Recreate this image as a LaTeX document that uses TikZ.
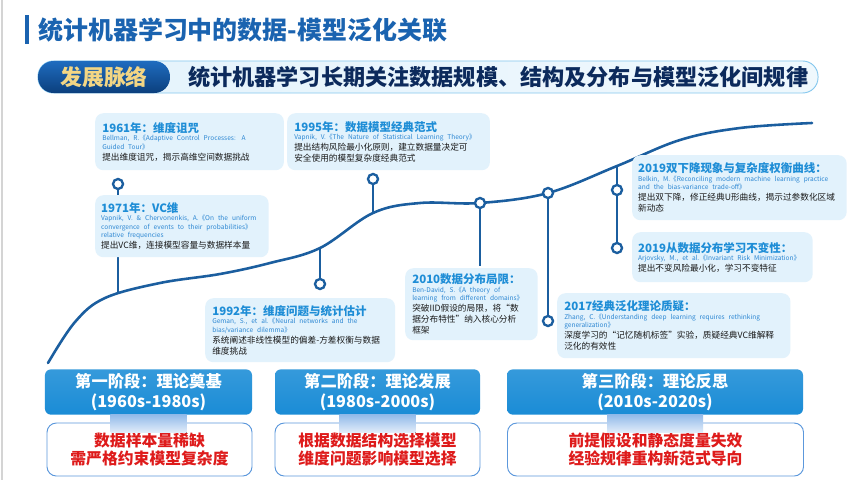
\documentclass[tikz,border=0pt]{standalone}
\usepackage{fontspec}
\setmainfont{Noto Sans CJK SC}
\usetikzlibrary{positioning, calc}

\definecolor{HeadBlue}{HTML}{1A63B0}
\definecolor{NavyText}{HTML}{0C2A5C}
\definecolor{PillDark}{HTML}{0B3F7D}
\definecolor{PillLight}{HTML}{1F6CBF}
\definecolor{PillGold}{HTML}{F3D684}
\definecolor{BandFill}{HTML}{E4F3FC}
\definecolor{BandLine}{HTML}{86C8EE}
\definecolor{CurveBlue}{HTML}{1B5E9F}
\definecolor{CardFill}{HTML}{E2F2FC}
\definecolor{CardTitle}{HTML}{1E8DD6}
\definecolor{CardCite}{HTML}{2B86D2}
\definecolor{CardText}{HTML}{1A1A1A}
\definecolor{StageBlue}{HTML}{1A8CD6}
\definecolor{StageArrow}{HTML}{93BBEA}
\definecolor{NoteLine}{HTML}{5C98DC}
\definecolor{NoteRed}{HTML}{DE1B1B}
\definecolor{SlideGray}{HTML}{D4D4D4}

\newcommand{\CardHead}[1]{{\fontsize{9.8}{11.5}\selectfont\bfseries\color{CardTitle}#1\par}}
\newcommand{\CardCiteLine}[1]{{\fontsize{5.6}{7.2}\selectfont\color{CardCite}\hyphenpenalty=10000\exhyphenpenalty=10000 #1\par}}
\newcommand{\CardBody}[1]{{\fontsize{7.4}{9.4}\selectfont\color{CardText}#1\par}}

\tikzset{
    plain/.style={
        inner sep=0pt,
        anchor=west
    },
    band/.style={
        draw=BandLine,
        left color=BandFill,
        right color=BandFill!60!white,
        line width=0.8pt,
        rounded corners=0.46cm
    },
    pill/.style={
        top color=PillLight,
        bottom color=PillDark,
        rounded corners=0.47cm,
        text=PillGold,
        font=\fontsize{18.6}{20}\selectfont\bfseries
    },
    curve/.style={
        CurveBlue,
        line width=2.2pt,
        line cap=round
    },
    stem/.style={
        CurveBlue,
        line width=2pt
    },
    dot/.style={
        circle,
        draw=CurveBlue,
        fill=white,
        line width=2pt,
        minimum size=0.3cm,
        inner sep=0pt
    },
    card/.style={
        fill=CardFill,
        rounded corners=7pt,
        anchor=north west,
        align=left,
        text width=#1,
        inner xsep=6pt,
        inner ysep=3pt
    },
    stagehead/.style={
        top color=StageBlue!88!white,
        bottom color=StageBlue,
        rounded corners=5pt,
        minimum height=1.32cm,
        text=white,
        font=\fontsize{13.9}{17}\selectfont\bfseries,
        align=center
    },
    stagenote/.style={
        draw=NoteLine,
        fill=white,
        line width=0.8pt,
        rounded corners=8pt,
        minimum height=1.59cm,
        text=NoteRed,
        font=\fontsize{13.5}{16}\selectfont\bfseries,
        align=center
    },
    stagearrow/.style={
        top color=StageArrow,
        bottom color=StageArrow!25
    }
}

\begin{document}
\begin{tikzpicture}[x=0.03cm, y=-0.03cm]
        \useasboundingbox (0,0) rectangle (851,480);
        \fill[white] (0,0) rectangle (851,480);
        \draw[SlideGray, line width=1pt] (2,0) -- (2,480);

        % Header
        \fill[HeadBlue] (25,15) rectangle (29,44);
        \node[plain, text=HeadBlue, font=\fontsize{21.3}{24}\selectfont\bfseries] (title) at (38,30) {统计机器学习中的数据-模型泛化关联};

        % Banner
        \node[band, minimum width=23.4cm, minimum height=0.96cm] (band) at (428,77) {};
        \node[pill, minimum width=3.96cm, minimum height=0.96cm] (pill) at (104,77) {发展脉络};
        \node[plain, text=NavyText, font=\fontsize{18.9}{20}\selectfont\bfseries] (bandtext) at (188,77) {统计机器学习长期关注数据规模、结构及分布与模型泛化间规律};

        % Timeline curve
        \draw[curve] plot[smooth, tension=0.6] coordinates {(48,363) (75,322) (105,298) (160,283) (220,274) (270,263) (320,248) (373,213) (420,203) (480,203) (548,193) (617,166) (680,140) (740,128) (812,123)};

        % Markers
        \coordinate (k1961) at (118,293);
        \node[dot] (d1961) at (118,184) {};
        \draw[stem] (k1961) -- (d1961);
        \coordinate (k1992) at (320,248);
        \node[dot] (d1992) at (320,284) {};
        \draw[stem] (k1992) -- (d1992);
        \coordinate (k1995) at (373,213);
        \node[dot] (d1995) at (373,179) {};
        \draw[stem] (k1995) -- (d1995);
        \node[dot] (d2010) at (480,203) {};
        \coordinate (k2010) at (480,266);
        \draw[stem] (d2010) -- (k2010);
        \node[dot] (d2017a) at (548,193) {};
        \node[dot] (d2017) at (548,321) {};
        \draw[stem] (d2017a) -- (d2017);
        \coordinate (k2019) at (617,166);
        \node[dot] (d2019a) at (617,190) {};
        \node[dot] (d2019b) at (617,248) {};
        \draw[stem] (k2019) -- (d2019a) -- (d2019b);

        % Event cards
        \node[card=149pt, minimum height=1.71cm] (e1961) at (95,113) {%
            \CardHead{1961年：维度诅咒}%
            \CardCiteLine{Bellman, R.《Adaptive Control Processes: A\\Guided Tour》}%
            \CardBody{提出维度诅咒，揭示高维空间数据挑战}};
        \node[card=138pt, minimum height=1.86cm, inner xsep=5pt] (e1971) at (95,195) {%
            \CardHead{1971年：VC维}%
            \CardCiteLine{Vapnik, V. \& Chervonenkis, A.《On the uniform\\convergence of events to their probabilities》\\relative frequencies}%
            \CardBody{提出VC维，连接模型容量与数据样本量}};
        \node[card=161pt, minimum height=1.71cm] (e1995) at (287,113) {%
            \CardHead{1995年：数据模型经典范式}%
            \CardCiteLine{Vapnik, V.《The Nature of Statistical Learning Theory》}%
            \CardBody{提出结构风险最小化原则，建立数据量决定可\\安全使用的模型复杂度经典范式}};
        \node[card=150pt, minimum height=1.92cm] (e1992) at (205,298) {%
            \CardHead{1992年：维度问题与统计估计}%
            \CardCiteLine{Geman, S., et al.《Neural networks and the\\bias/variance dilemma》}%
            \CardBody{系统阐述非线性模型的偏差-方差权衡与数据\\维度挑战}};
        \node[card=101pt, minimum height=2.16cm] (e2010) at (405,268) {%
            \CardHead{2010数据分布局限：}%
            \CardCiteLine{Ben-David, S.《A theory of\\learning from different domains》}%
            \CardBody{突破IID假设的局限，将“数\\据分布特性”纳入核心分析\\框架}};
        \node[card=173pt, minimum height=1.95cm, inner xsep=5pt] (e2019a) at (632,155) {%
            \CardHead{2019双下降现象与复杂度权衡曲线：}%
            \CardCiteLine{Belkin, M.《Reconciling modern machine learning practice\\and the bias-variance trade-off》}%
            \CardBody{提出双下降，修正经典U形曲线，揭示过参数化区域\\新动态}};
        \node[card=144pt, minimum height=1.5cm, inner xsep=5pt] (e2019b) at (632,232) {%
            \CardHead{2019从数据分布学习不变性：}%
            \CardCiteLine{Arjovsky, M., et al.《Invariant Risk Minimization》}%
            \CardBody{提出不变风险最小化，学习不变特征}};
        \node[card=187pt, minimum height=1.95cm] (e2017) at (557,293) {%
            \CardHead{2017经典泛化理论质疑：}%
            \CardCiteLine{Zhang, C.《Understanding deep learning requires rethinking\\generalization》}%
            \CardBody{深度学习的“记忆随机标签”实验，质疑经典VC维解释\\泛化的有效性}};

        % Stages
        \node[stagehead, minimum width=6.21cm] (h1) at (148.5,392) {第一阶段：理论奠基\\(1960s-1980s)};
        \node[stagehead, minimum width=6.15cm] (h2) at (377.5,392) {第二阶段：理论发展\\(1980s-2000s)};
        \node[stagehead, minimum width=8.88cm] (h3) at (655,392) {第三阶段：理论反思\\(2010s-2020s)};
        \node[stagenote, minimum width=6.15cm] (n1) at (149.5,449.5) {数据样本量稀缺\\需严格约束模型复杂度};
        \node[stagenote, minimum width=6.15cm] (n2) at (377.5,449.5) {根据数据结构选择模型\\维度问题影响模型选择};
        \node[stagenote, minimum width=8.88cm] (n3) at (655.5,449.5) {前提假设和静态度量失效\\经验规律重构新范式导向};
        \fill[stagearrow] ($(h1.south)+(-38,0)$) rectangle ($(h1.south)+(38,18)$);
        \fill[stagearrow] ($(h2.south)+(-38,0)$) rectangle ($(h2.south)+(38,18)$);
        \fill[stagearrow] ($(h3.south)+(-48,0)$) rectangle ($(h3.south)+(48,18)$);
    \end{tikzpicture}
\end{document}
